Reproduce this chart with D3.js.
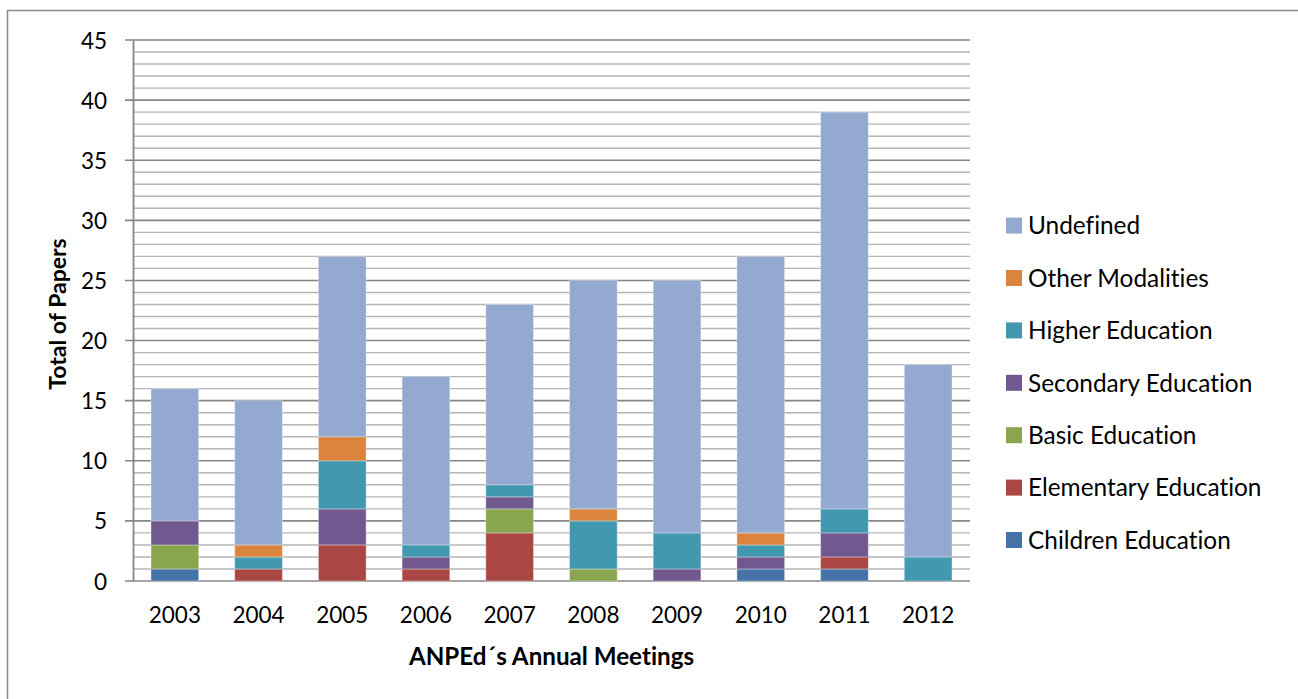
<!DOCTYPE html>
<html>
<head>
<meta charset="utf-8">
<script src="https://cdn.jsdelivr.net/npm/d3@7/dist/d3.min.js"></script>
<style>
  html, body { margin: 0; padding: 0; background: #fff; }
  svg text { font-family: Lato, "Open Sans", sans-serif; fill: #000; font-variant-ligatures: none; font-feature-settings: "liga" 0, "dlig" 0; }
</style>
</head>
<body>
<svg id="chart" width="1298" height="699"></svg>
<script>
const years = ["2003","2004","2005","2006","2007","2008","2009","2010","2011","2012"];
const seriesNames = ["Children Education","Elementary Education","Basic Education","Secondary Education","Higher Education","Other Modalities","Undefined"];
const seriesColors = ["#4572A7","#AA4643","#89A54E","#71588F","#4198AF","#DB843D","#93A9CF"];
const childrenEducation   = [1,0,0,0,0,0,0,1,1,0];
const elementaryEducation = [0,1,3,1,4,0,0,0,1,0];
const basicEducation      = [2,0,0,0,2,1,0,0,0,0];
const secondaryEducation  = [2,0,3,1,1,0,1,1,2,0];
const higherEducation     = [0,1,4,1,1,4,3,1,2,2];
const otherModalities     = [0,1,2,0,0,1,0,1,0,0];
const undefinedPapers     = [11,12,15,14,15,19,21,23,33,16];
const yTicks = [0,5,10,15,20,25,30,35,40,45];
const yTitle = "Total of Papers";
const xTitle = "ANPEd\u00B4s Annual Meetings";

const seriesValues = [childrenEducation, elementaryEducation, basicEducation, secondaryEducation, higherEducation, otherModalities, undefinedPapers];
const rows = years.map((y, i) => {
  const r = { year: y };
  seriesNames.forEach((s, k) => r[s] = seriesValues[k][i]);
  return r;
});

const svg = d3.select("#chart");
const plot = { left: 133, right: 970, top: 40, bottom: 581 };

// outer frame (extends past right/bottom edges)
svg.append("rect").attr("x", 7.5).attr("y", 10.5).attr("width", 1400).attr("height", 800)
  .attr("fill", "none").attr("stroke", "#8c8c8c").attr("stroke-width", 1.5);

const x = d3.scaleBand().domain(years).range([plot.left, plot.right]).paddingInner(0.43).paddingOuter(0.215);
const y = d3.scaleLinear().domain([0, 45]).range([plot.bottom, plot.top]);

// gridlines
const minor = d3.range(0, 46).filter(v => v % 5 !== 0);
svg.append("g").selectAll("line").data(minor).join("line")
  .attr("x1", plot.left).attr("x2", plot.right)
  .attr("y1", d => y(d)).attr("y2", d => y(d))
  .attr("stroke", "#b4b4b4").attr("stroke-width", 1.4);
svg.append("g").selectAll("line").data(yTicks).join("line")
  .attr("x1", plot.left - 8).attr("x2", plot.right)
  .attr("y1", d => y(d)).attr("y2", d => y(d))
  .attr("stroke", "#868686").attr("stroke-width", 1.6);

// y axis
const yAxis = d3.axisLeft(y).tickValues(yTicks).tickSize(0).tickPadding(26);
const gy = svg.append("g").attr("transform", `translate(${plot.left},0)`).call(yAxis);
gy.select(".domain").attr("stroke", "#868686").attr("stroke-width", 1.8);
gy.selectAll("text").style("font-size", "22.5px").attr("fill", "#000").attr("dy", "0.36em");

// stacked bars
const stack = d3.stack().keys(seriesNames)(rows);
svg.append("g").selectAll("g").data(stack).join("g")
  .attr("fill", (d, i) => seriesColors[i])
  .selectAll("rect").data(d => d.filter(p => p[1] - p[0] > 0)).join("rect")
  .attr("x", d => x(d.data.year))
  .attr("width", x.bandwidth())
  .attr("y", d => y(d[1]))
  .attr("height", d => y(d[0]) - y(d[1]))
  .attr("stroke", "rgba(255,255,255,0.35)").attr("stroke-width", 1);

// x axis
const xAxis = d3.axisBottom(x).tickSize(0).tickPadding(26);
const gx = svg.append("g").attr("transform", `translate(0,${plot.bottom})`).call(xAxis);
gx.select(".domain").remove();
gx.selectAll("text").style("font-size", "22.5px").attr("fill", "#000");

// axis titles
svg.append("text").attr("x", (plot.left + plot.right) / 2).attr("y", 665)
  .attr("text-anchor", "middle").style("font-size", "24.2px").style("font-weight", "bold").text(xTitle);
svg.append("text").attr("transform", `translate(66,314) rotate(-90)`)
  .attr("text-anchor", "middle").style("font-size", "23px").style("font-weight", "bold").text(yTitle);

// legend
const legendOrder = seriesNames.slice().reverse();
const lg = svg.append("g").selectAll("g").data(legendOrder).join("g")
  .attr("transform", (d, i) => `translate(1006,${225.6 + i * 52.4})`);
lg.append("rect").attr("x", 0).attr("y", -8).attr("width", 16).attr("height", 16)
  .attr("fill", d => seriesColors[seriesNames.indexOf(d)]);
lg.append("text").attr("x", 22).attr("y", 0).attr("dy", "0.36em").style("font-size", "24.4px").text(d => d);
</script>
</body>
</html>
